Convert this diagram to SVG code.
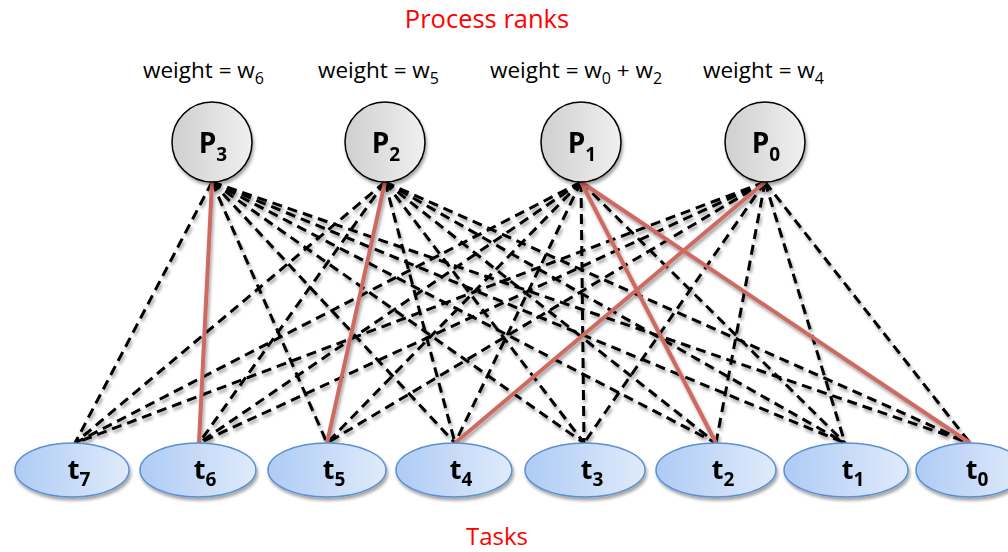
<svg xmlns="http://www.w3.org/2000/svg" width="1008" height="552" viewBox="0 0 1008 552">
<defs>
<linearGradient id="gp" x1="0" y1="0" x2="1" y2="0">
<stop offset="0" stop-color="#cfcfcf"/><stop offset="1" stop-color="#f0f0f0"/>
</linearGradient>
<linearGradient id="gt" x1="0" y1="0" x2="1" y2="0">
<stop offset="0" stop-color="#aecbf5"/><stop offset="1" stop-color="#e0ebfb"/>
</linearGradient>
<filter id="sh" x="-20%" y="-20%" width="140%" height="150%">
<feDropShadow dx="1.5" dy="3" stdDeviation="1.8" flood-color="#000" flood-opacity="0.35"/>
</filter>
</defs>
<style>
.lbl{font-family:"Open Sans","Liberation Sans",sans-serif;font-size:22.5px;fill:#000}
.red{font-family:"Open Sans","Liberation Sans",sans-serif;font-size:25.5px;fill:#ff0000}
.pn{font-family:"Open Sans","Liberation Sans",sans-serif;font-size:28px;font-weight:bold;fill:#000}
.tn{font-family:"Open Sans","Liberation Sans",sans-serif;font-size:27px;font-weight:bold;fill:#000}
.sub{font-size:16px}
.bsub{font-size:19px}
.pc{fill:url(#gp);stroke:#000;stroke-width:1.5}
.te{fill:url(#gt);stroke:#5b8fd0;stroke-width:1.5}
.d{stroke:#000;stroke-width:3;stroke-dasharray:10 6;fill:none}
.r{stroke:#cd6a62;stroke-width:4;fill:none}
</style>
<text class="red" x="487" y="28" text-anchor="middle">Process ranks</text>
<text class="lbl" x="143" y="78">weight = w<tspan class="sub" dy="6">6</tspan></text>
<text class="lbl" x="318" y="78">weight = w<tspan class="sub" dy="6">5</tspan></text>
<text class="lbl" x="490" y="78">weight = w<tspan class="sub" dy="6">0</tspan><tspan dy="-6"> + w</tspan><tspan class="sub" dy="6">2</tspan></text>
<text class="lbl" x="703" y="78">weight = w<tspan class="sub" dy="6">4</tspan></text>
<g id="connectors" filter="url(#sh)">
<line class="d" x1="212" y1="182" x2="75" y2="443"/>
<line class="d" x1="385" y1="182" x2="75" y2="443"/>
<line class="d" x1="581" y1="182" x2="75" y2="443"/>
<line class="d" x1="765" y1="182" x2="75" y2="443"/>
<line class="d" x1="385" y1="182" x2="199" y2="443"/>
<line class="d" x1="581" y1="182" x2="199" y2="443"/>
<line class="d" x1="765" y1="182" x2="199" y2="443"/>
<line class="d" x1="212" y1="182" x2="327" y2="443"/>
<line class="d" x1="581" y1="182" x2="327" y2="443"/>
<line class="d" x1="765" y1="182" x2="327" y2="443"/>
<line class="d" x1="212" y1="182" x2="455" y2="443"/>
<line class="d" x1="385" y1="182" x2="455" y2="443"/>
<line class="d" x1="581" y1="182" x2="455" y2="443"/>
<line class="d" x1="212" y1="182" x2="584" y2="443"/>
<line class="d" x1="385" y1="182" x2="584" y2="443"/>
<line class="d" x1="581" y1="182" x2="584" y2="443"/>
<line class="d" x1="765" y1="182" x2="584" y2="443"/>
<line class="d" x1="212" y1="182" x2="716" y2="443"/>
<line class="d" x1="385" y1="182" x2="716" y2="443"/>
<line class="d" x1="765" y1="182" x2="716" y2="443"/>
<line class="d" x1="212" y1="182" x2="845" y2="443"/>
<line class="d" x1="385" y1="182" x2="845" y2="443"/>
<line class="d" x1="581" y1="182" x2="845" y2="443"/>
<line class="d" x1="765" y1="182" x2="845" y2="443"/>
<line class="d" x1="212" y1="182" x2="970" y2="443"/>
<line class="d" x1="385" y1="182" x2="970" y2="443"/>
<line class="d" x1="765" y1="182" x2="970" y2="443"/>
<line class="r" x1="212" y1="182" x2="199" y2="443"/>
<line class="r" x1="385" y1="182" x2="327" y2="443"/>
<line class="r" x1="581" y1="182" x2="716" y2="443"/>
<line class="r" x1="581" y1="182" x2="970" y2="443"/>
<line class="r" x1="765" y1="182" x2="455" y2="443"/>
</g>
<g id="P3" filter="url(#sh)"><circle class="pc" cx="212" cy="142" r="40"/><text class="pn" x="213" y="153" text-anchor="middle">P<tspan class="bsub" dy="8">3</tspan></text></g>
<g id="P2" filter="url(#sh)"><circle class="pc" cx="385" cy="142" r="40"/><text class="pn" x="386" y="153" text-anchor="middle">P<tspan class="bsub" dy="8">2</tspan></text></g>
<g id="P1" filter="url(#sh)"><circle class="pc" cx="581" cy="142" r="40"/><text class="pn" x="582" y="153" text-anchor="middle">P<tspan class="bsub" dy="8">1</tspan></text></g>
<g id="P0" filter="url(#sh)"><circle class="pc" cx="765" cy="142" r="40"/><text class="pn" x="766" y="153" text-anchor="middle">P<tspan class="bsub" dy="8">0</tspan></text></g>
<g id="t7" filter="url(#sh)"><ellipse class="te" cx="72" cy="470" rx="57" ry="27"/><text class="tn" x="79" y="479" text-anchor="middle">t<tspan class="bsub" dy="7">7</tspan></text></g>
<g id="t6" filter="url(#sh)"><ellipse class="te" cx="198" cy="470" rx="58" ry="27"/><text class="tn" x="205" y="479" text-anchor="middle">t<tspan class="bsub" dy="7">6</tspan></text></g>
<g id="t5" filter="url(#sh)"><ellipse class="te" cx="327" cy="470" rx="59" ry="27"/><text class="tn" x="334" y="479" text-anchor="middle">t<tspan class="bsub" dy="7">5</tspan></text></g>
<g id="t4" filter="url(#sh)"><ellipse class="te" cx="454" cy="470" rx="58" ry="27"/><text class="tn" x="461" y="479" text-anchor="middle">t<tspan class="bsub" dy="7">4</tspan></text></g>
<g id="t3" filter="url(#sh)"><ellipse class="te" cx="585" cy="470" rx="60" ry="27"/><text class="tn" x="592" y="479" text-anchor="middle">t<tspan class="bsub" dy="7">3</tspan></text></g>
<g id="t2" filter="url(#sh)"><ellipse class="te" cx="716" cy="470" rx="60" ry="27"/><text class="tn" x="723" y="479" text-anchor="middle">t<tspan class="bsub" dy="7">2</tspan></text></g>
<g id="t1" filter="url(#sh)"><ellipse class="te" cx="846" cy="470" rx="62" ry="27"/><text class="tn" x="853" y="479" text-anchor="middle">t<tspan class="bsub" dy="7">1</tspan></text></g>
<g id="t0" filter="url(#sh)"><ellipse class="te" cx="970" cy="470" rx="54" ry="27"/><text class="tn" x="977" y="479" text-anchor="middle">t<tspan class="bsub" dy="7">0</tspan></text></g>
<text class="red" x="497" y="545" text-anchor="middle" style="font-size:24px">Tasks</text>
</svg>
